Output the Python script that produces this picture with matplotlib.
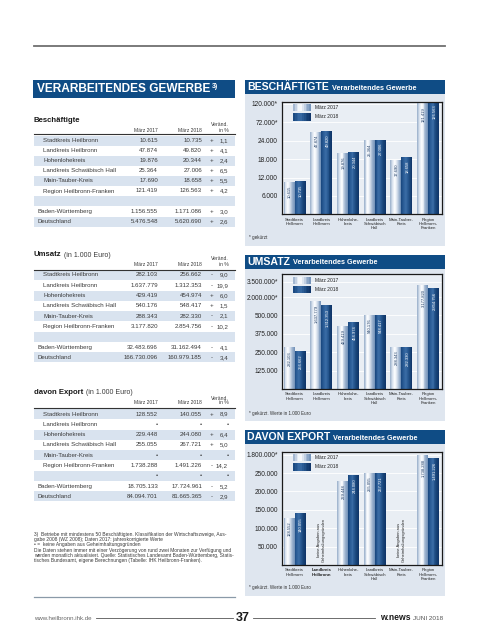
import numpy as np
import matplotlib
matplotlib.use("Agg")
import matplotlib.pyplot as plt
import matplotlib.ticker as mticker
import matplotlib.transforms as mtransforms
from matplotlib.patches import Rectangle
from matplotlib.lines import Line2D
from matplotlib.colors import LinearSegmentedColormap

# ---- data ----
regions = ["Stadtkreis Heilbronn", "Landkreis Heilbronn", "Hohenlohekreis",
           "Landkreis Schwäbisch Hall", "Main-Tauber-Kreis", "Region Heilbronn-Franken"]
totals = ["Baden-Württemberg", "Deutschland"]
chart_cats = ["Stadtkreis\nHeilbronn", "Landkreis\nHeilbronn", "Hohenlohe-\nkreis",
              "Landkreis\nSchwäbisch\nHall", "Main-Tauber-\nKreis", "Region\nHeilbronn-\nFranken"]

besch_2017 = [10615, 47874, 19876, 25364, 17690, 121419]
besch_2018 = [10735, 49820, 20344, 27006, 18658, 126563]
besch_pct = [1.1, 4.1, 2.4, 6.5, 5.5, 4.2]
besch_tot_2017 = [1156555, 5476548]
besch_tot_2018 = [1171086, 5620690]
besch_tot_pct = [3.0, 2.6]

umsatz_2017 = [282103, 1637779, 429419, 540176, 288343, 3177820]
umsatz_2018 = [256662, 1312353, 454974, 548417, 282330, 2854756]
umsatz_pct = [-9.0, -19.9, 6.0, 1.5, -2.1, -10.2]
umsatz_tot_2017 = [32483696, 166730096]
umsatz_tot_2018 = [31162494, 160979185]
umsatz_tot_pct = [-4.1, -3.4]

export_2017 = [128552, None, 229448, 255055, None, 1738288]
export_2018 = [140055, None, 244080, 267721, None, 1491226]
export_pct = [8.9, None, 6.4, 5.0, None, -14.2]
export_tot_2017 = [18705133, 84094701]
export_tot_2018 = [17724961, 81665365]
export_tot_pct = [-5.2, -2.9]

besch_ticks = [6000, 12000, 18000, 24000, 72000, 120000]
besch_tick_labels = ["6.000", "12.000", "18.000", "24.000", "72.000*", "120.000*"]
umsatz_ticks = [125000, 250000, 375000, 500000, 2000000, 3500000]
umsatz_tick_labels = ["125.000", "250.000", "375.000", "500.000", "2.000.000*", "3.500.000*"]
export_ticks = [50000, 100000, 150000, 200000, 250000, 1800000]
export_tick_labels = ["50.000", "100.000", "150.000", "200.000", "250.000", "1.800.000*"]

FONT = ['Liberation Sans', 'DejaVu Sans']
BLUE = '#0f4c85'
PANEL = '#dfe6ef'
SHADE = '#d9e3ef'
TXT = '#3a3a3a'

cm17 = LinearSegmentedColormap.from_list('c17', ['#a3b7d0', '#dfe7f1', '#ffffff', '#d5dfec', '#9db3cf', '#7896bb'])
cm18 = LinearSegmentedColormap.from_list('c18', ['#1b4a82', '#2c5e98', '#3a6ca5', '#275891', '#174377', '#10366a'])

fig = plt.figure(figsize=(4.8, 6.4), dpi=100)
fig.patch.set_facecolor('white')
renderer = fig.canvas.get_renderer()
# pixel coordinates, origin top left
PX = mtransforms.Affine2D().scale(1 / 480, -1 / 640).translate(0, 1) + fig.transFigure


def de(n):
    return f"{n:,}".replace(",", ".")


def T(x, y, s, size=4.4, **kw):
    kw.setdefault('family', FONT)
    kw.setdefault('color', TXT)
    kw.setdefault('va', 'center')
    return fig.text(x, y, s, transform=PX, fontsize=size, **kw)


def wpx(t):
    return t.get_window_extent(renderer=renderer).width


def box(x0, y0, x1, y1, color, z=-1):
    fig.add_artist(Rectangle((x0, y0), x1 - x0, y1 - y0, transform=PX,
                             facecolor=color, edgecolor='none', zorder=z))


def hline(x0, x1, y, color, lw):
    fig.add_artist(Line2D([x0, x1], [y, y], transform=PX, color=color, lw=lw))


def gradbox(x0, y0, x1, y1, cmap, n=10, z=5):
    w = (x1 - x0) / n
    for k in range(n):
        box(x0 + k * w, y0, x0 + (k + 1) * w + 0.2, y1, cmap(k / (n - 1)), z=z)


# ---- page frame ----
hline(34, 445, 46, '#6f6f6f', 1.3)
box(33, 80, 235, 98, BLUE)
t = T(37, 89.5, "VERARBEITENDES GEWERBE", size=8.6, color='white', weight='bold')
T(37 + wpx(t) + 2, 86, "3)", size=5, color='white', weight='bold')


# ---- tables ----
def table(title, sub, y_head, y_ver, y_hdr, y_line, y0, step, v17, v18, pct, t17, t18, tpct, dots=False):
    th = T(34, y_head, title, size=5.6, weight='bold', color='#1a1a1a')
    if sub:
        T(34 + wpx(th) + 2.5, y_head + 0.3, sub, size=5.0, color=TXT)
    T(158, y_hdr, "März 2017", size=3.6, ha='right')
    T(202, y_hdr, "März 2018", size=3.6, ha='right')
    T(229, y_ver, "Veränd.", size=3.6, ha='right')
    T(229, y_hdr, "in %", size=3.6, ha='right')
    hline(34, 235, y_line, '#333333', 0.8)
    ys = [y0 + i * step for i in range(7)]
    yb = ys[6] + 10.5
    ys_tot = [yb, yb + 10]
    for yy in [ys[0], ys[2], ys[4], ys[6], ys_tot[1]]:
        box(34, yy - 5, 235, yy + 5, SHADE)

    def row(y, label, x_lab, a, b, p):
        T(x_lab, y, label)
        T(158, y, "•" if a is None else de(a), ha='right')
        T(202, y, "•" if b is None else de(b), ha='right')
        if p is None:
            T(229, y, "•", ha='right')
        else:
            T(212, y, "+" if p >= 0 else "-", ha='center')
            T(228, y, f"{abs(p):.1f}".replace(".", ","), ha='right')

    for i, r in enumerate(regions):
        row(ys[i], r, 43, v17[i], v18[i], pct[i])
    if dots:
        row(ys[6], "", 43, None, None, None)
    for i, r in enumerate(totals):
        row(ys_tot[i], r, 38, t17[i], t18[i], tpct[i])


table("Beschäftigte", None, 120, 124, 130, 134, 141, 10.0,
      besch_2017, besch_2018, besch_pct, besch_tot_2017, besch_tot_2018, besch_tot_pct)
table("Umsatz", "(in 1.000 Euro)", 255, 259, 264.5, 270, 275, 10.3,
      umsatz_2017, umsatz_2018, umsatz_pct, umsatz_tot_2017, umsatz_tot_2018, umsatz_tot_pct)
table("davon Export", "(in 1.000 Euro)", 392, 398, 403, 408, 414, 10.3,
      export_2017, export_2018, export_pct, export_tot_2017, export_tot_2018, export_tot_pct, dots=True)

notes = [
    "3)  Betriebe mit mindestens 50 Beschäftigten. Klassifikation der Wirtschaftszweige, Aus-",
    "gabe 2008 (WZ 2008); Daten 2017: jahreskorrigierte Werte",
    "• =  keine Angaben aus Geheimhaltungsgründen",
    "Die Daten stehen immer mit einer Verzögerung von rund zwei Monaten zur Verfügung und",
    "werden monatlich aktualisiert. Quelle: Statistisches Landesamt Baden-Württemberg, Statis-",
    "tisches Bundesamt, eigene Berechnungen (Tabelle: IHK Heilbronn-Franken).",
]
for i, s in enumerate(notes):
    T(34, 534.3 + i * 5.3, s, size=3.5)

hline(34, 235, 597, '#8a9aa8', 0.9)

# footer
T(34, 618, "www.heilbronn.ihk.de", size=4.4, color='#666666')
hline(96, 233, 618, '#555555', 0.6)
T(243, 618, "37", size=9, ha='center', weight='bold', color='#1a1a1a')
hline(253, 375, 618, '#555555', 0.6)
T(380, 618, "w.news", size=6.2, weight='bold', color='#1a1a1a')
T(413, 618.5, "JUNI 2018", size=4.6, color='#555555')


# ---- charts ----
def chart(y_bar, title, v17, v18, bp_vals, bp_pos, ticks, tick_labels, y_top, y_bot,
          note, bold_cat=None, missing=None):
    box(245, y_bar, 445, y_bar + 14, BLUE)
    box(245, y_bar + 14, 445, y_bar + 166, PANEL)
    t = T(247, y_bar + 7.3, title, size=7.6, color='white', weight='bold')
    T(247 + wpx(t) + 3, y_bar + 8, "Verarbeitendes Gewerbe", size=5.2, color='white', weight='bold')
    T(249, y_bar + 158, note, size=3.3, color='#333333')

    ax = fig.add_axes([282 / 480, 1 - y_bot / 640, 160 / 480, (y_bot - y_top) / 640])
    ax.set_facecolor('#e9eef4')

    def fwd(v):
        return np.interp(v, bp_vals, bp_pos)

    def inv(p):
        return np.interp(p, bp_pos, bp_vals)

    ax.set_yscale('function', functions=(fwd, inv))
    W = 0.41
    N = 12
    x = np.arange(len(v17))
    for vals, cmap, off, lc in [(v17, cm17, -W, '#1d3c66'), (v18, cm18, 0, 'white')]:
        idx = [i for i, v in enumerate(vals) if v is not None]
        h = np.array([vals[i] for i in idx], dtype=float)
        xi = x[idx]
        for k in range(N):
            ax.bar(xi + off + k * W / N, h, width=W / N * 1.05, align='edge',
                   color=cmap(k / (N - 1)), linewidth=0, zorder=2)
        for xx, v in zip(xi, h):
            ax.annotate(de(int(v)), (xx + off + W / 2 + 0.04, v), xytext=(0, -2.5),
                        textcoords='offset points', rotation=90, ha='center', va='top',
                        fontsize=3.0, color=lc, family=FONT, zorder=3)
    if missing:
        for i, v in enumerate(v17):
            if v is None:
                ax.text(i, 0.03, missing, rotation=90, ha='center', va='bottom',
                        fontsize=2.9, family=FONT, color='#222222', linespacing=1.0,
                        transform=mtransforms.blended_transform_factory(ax.transData, ax.transAxes))

    top = (y_bot - y_top) / 18.4
    ax.set_ylim(0, inv(top))
    ax.set_xlim(-0.47, 5.52)
    ax.set_yticks(ticks, tick_labels)
    ax.yaxis.set_minor_locator(mticker.NullLocator())
    ax.set_xticks(x, chart_cats)
    ax.tick_params(axis='y', length=0, pad=3, labelsize=4.7, labelcolor='#222222')
    ax.tick_params(axis='x', length=0, pad=2.5, labelsize=3.1, labelcolor='#222222')
    for lab in ax.get_yticklabels() + ax.get_xticklabels():
        lab.set_family(FONT)
        lab.set_linespacing(1.1)
    if bold_cat is not None:
        ax.get_xticklabels()[bold_cat].set_fontweight('bold')
    ax.yaxis.grid(True, color='white', lw=0.6, zorder=0)
    ax.set_axisbelow(True)
    for sp in ax.spines.values():
        sp.set_color('#1a1a1a')
        sp.set_linewidth(0.9)

    # legend
    ly = y_top + 2.5
    gradbox(293, ly, 311, ly + 7, cm17)
    gradbox(293, ly + 9, 311, ly + 16.5, cm18)
    T(315, ly + 3.5, "März 2017", size=3.5, color='#222222', zorder=6)
    T(315, ly + 12.7, "März 2018", size=3.5, color='#222222', zorder=6)
    return ax


chart(80, "BESCHÄFTIGTE", besch_2017, besch_2018,
      [0, 24000, 72000, 120000, 168000], [0, 4, 5, 6, 7],
      besch_ticks, besch_tick_labels, 101.7, 214.3, "* gekürzt")
chart(255, "UMSATZ", umsatz_2017, umsatz_2018,
      [0, 500000, 2000000, 3500000, 5000000], [0, 4, 5, 5.82, 6.64],
      umsatz_ticks, umsatz_tick_labels, 274, 389, "* gekürzt. Werte in 1.000 Euro")
chart(430, "DAVON EXPORT", export_2017, export_2018,
      [0, 250000, 1800000, 3350000], [0, 5, 6, 7],
      export_ticks, export_tick_labels, 451.7, 565, "* gekürzt. Werte in 1.000 Euro",
      bold_cat=1, missing="keine Angaben aus\nGeheimhaltungsgründen")

fig.savefig("out.png", dpi=100, facecolor='white')
